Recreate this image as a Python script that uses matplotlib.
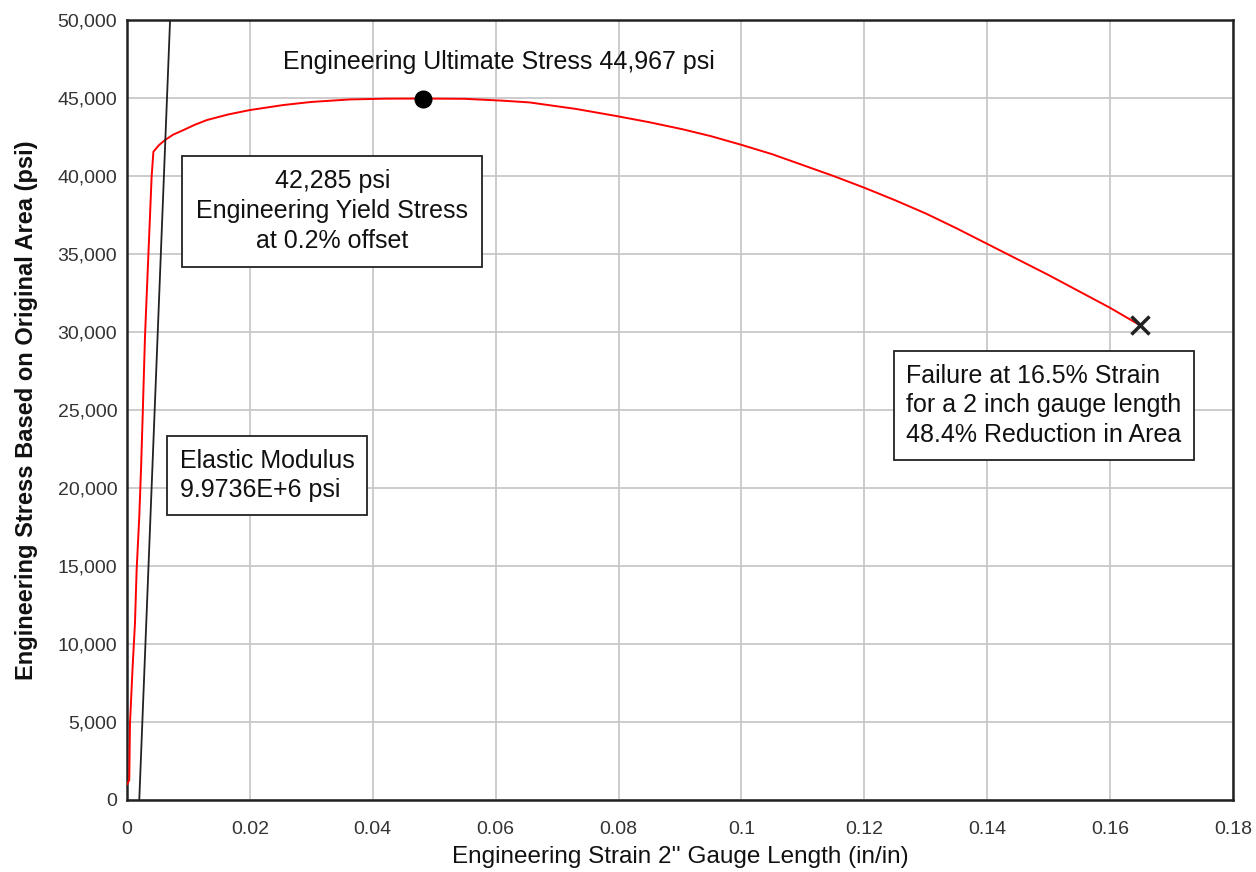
import numpy as np
import matplotlib.pyplot as plt
from matplotlib.ticker import FuncFormatter

plt.rcParams['font.family'] = ['Liberation Sans', 'DejaVu Sans']

# stress-strain curve
strain = [0.0, 0.00037, 0.00049, 0.00092, 0.0013, 0.00157, 0.0020, 0.00228, 0.00255,
          0.00293, 0.00347, 0.00401, 0.0043, 0.0052, 0.0062, 0.0075, 0.0092, 0.011,
          0.013, 0.0165, 0.020, 0.0254, 0.030, 0.0363, 0.042, 0.0482, 0.055,
          0.0612, 0.0655, 0.0731, 0.0796, 0.085, 0.0904, 0.095, 0.100, 0.105,
          0.110, 0.115, 0.120, 0.125, 0.130, 0.135, 0.140, 0.145, 0.150, 0.155,
          0.160, 0.1648]
stress = [1000, 1280, 4910, 8550, 11330, 14740, 18160, 21150, 24570,
          29700, 34830, 39960, 41560, 41980, 42310, 42650, 42950, 43280,
          43590, 43950, 44230, 44550, 44750, 44910, 44960, 44967, 44950,
          44830, 44720, 44300, 43850, 43450, 43000, 42560, 42000, 41400,
          40700, 40000, 39250, 38450, 37600, 36650, 35650, 34650, 33650, 32600,
          31550, 30450]

modulus = 9.9736e6
offset = 0.002
ultimate = (0.0482, 44967)
failure = (0.1648, 30450)

xticks = [0, 0.02, 0.04, 0.06, 0.08, 0.1, 0.12, 0.14, 0.16, 0.18]
xtick_labels = ['0', '0.02', '0.04', '0.06', '0.08', '0.1', '0.12', '0.14', '0.16', '0.18']
yticks = np.arange(0, 50001, 5000)

fig = plt.figure(figsize=(12.56, 8.72), dpi=100)
ax = fig.add_axes([0.1011, 0.0826, 0.8806, 0.8944])

ax.plot(strain, stress, color='red', lw=1.4, zorder=3)

# 0.2% offset line
ys = np.array([0, 50000])
ax.plot(offset + ys / modulus, ys, color='#222222', lw=1.3, zorder=3)

ax.plot(*ultimate, 'o', color='black', ms=12, zorder=4)
ax.plot(*failure, 'x', color='#222222', ms=13, mew=2.5, zorder=4)

ax.set_xlim(0, 0.18)
ax.set_ylim(0, 50000)
ax.set_xticks(xticks)
ax.set_xticklabels(xtick_labels)
ax.set_yticks(yticks)
ax.yaxis.set_major_formatter(FuncFormatter(lambda v, p: f'{int(v):,}'))
ax.tick_params(length=0, labelsize=14, labelcolor='#333333')
ax.tick_params(axis='x', pad=15)
ax.tick_params(axis='y', pad=7)
ax.grid(True, color='#c8c8c8', lw=1.3)
ax.set_axisbelow(True)
for s in ax.spines.values():
    s.set_linewidth(1.8)
    s.set_color('#222222')

ax.set_xlabel("Engineering Strain 2'' Gauge Length (in/in)", fontsize=17.5, labelpad=6,
              color='#111111')
ax.set_ylabel('Engineering Stress Based on Original Area (psi)', fontsize=17,
              fontweight='bold', labelpad=14, color='#111111')

ax.text(0.0606, 47300, 'Engineering Ultimate Stress 44,967 psi', fontsize=18,
        ha='center', va='center', color='#111111')

ax.text(0.0334, 37750, '42,285 psi\nEngineering Yield Stress\nat 0.2% offset', fontsize=18,
        ha='center', va='center', linespacing=1.3, color='#111111',
        bbox=dict(boxstyle='square,pad=0.55', fc='white', ec='#222222', lw=1.3), zorder=5)
ax.text(0.0086, 20800, 'Elastic Modulus\n9.9736E+6 psi', fontsize=18,
        ha='left', va='center', linespacing=1.3, color='#111111',
        bbox=dict(boxstyle='square,pad=0.5', fc='white', ec='#222222', lw=1.3), zorder=5)
ax.text(0.1268, 25300, 'Failure at 16.5% Strain\nfor a 2 inch gauge length\n48.4% Reduction in Area',
        fontsize=18, ha='left', va='center', linespacing=1.3, color='#111111',
        bbox=dict(boxstyle='square,pad=0.5', fc='white', ec='#222222', lw=1.3), zorder=5)

fig.savefig('out.png', dpi=100)
